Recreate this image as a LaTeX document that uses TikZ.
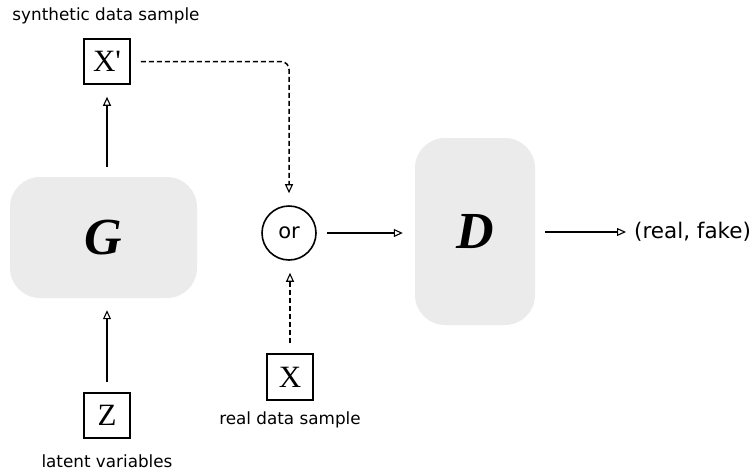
\documentclass[tikz,border=0pt]{standalone}
\usepackage{fontspec}
\setmainfont{DejaVu Sans}
\newfontfamily\serifface{Liberation Serif}
\usetikzlibrary{arrows.meta}
\definecolor{boxgray}{HTML}{EBEBEB}
\tikzset{
  netbox/.style={fill=boxgray, draw=none, rounded corners=30pt, inner sep=0pt},
  varbox/.style={draw, line width=1.6pt, minimum width=46pt, minimum height=45pt, inner sep=0pt,
     font=\serifface\fontsize{31}{31}\selectfont},
  lbl/.style={inner sep=0pt, font=\fontsize{16.8}{18}\selectfont},
  flow/.style={line width=1.9pt, -{Triangle[open, length=9pt, width=8pt, line width=1.1pt]},
     shorten <=10pt, shorten >=12pt},
  dflow/.style={flow, line width=1.5pt, dash pattern=on 5pt off 3pt}
}
\begin{document}
\begin{tikzpicture}[x=1pt, y=-1pt]
\useasboundingbox (0,0) rectangle (754,472);
% networks
\node[netbox, minimum width=187pt, minimum height=121pt] (G) at (103.5,237.5)
  {\serifface\bfseries\itshape\fontsize{52}{52}\selectfont G};
\node[netbox, minimum width=120pt, minimum height=187pt] (D) at (475,231.5)
  {\serifface\bfseries\itshape\fontsize{52}{52}\selectfont D};
% variables
\node[varbox] (xp) at (107,61.5) {X'};
\node[varbox] (z) at (107,415.5) {Z};
\node[varbox, minimum height=46pt] (x) at (290,377) {X};
\node[draw, circle, line width=1.6pt, minimum size=54pt, inner sep=0pt,
  font=\fontsize{21}{21}\selectfont] (or) at (289,233) {or};
% labels
\node[lbl] (lsyn) at (106,16) {synthetic data sample};
\node[lbl] (llat) at (107,461) {latent variables};
\node[lbl] (lreal) at (290,420) {real data sample};
\node[inner sep=0pt, anchor=west, font=\fontsize{21.5}{23}\selectfont] (out) at (634,232) {(real, fake)};
% connectors
\draw[flow] (z) -- (z |- G.south);
\draw[flow] (xp |- G.north) -- (xp);
\draw[dflow, rounded corners=8pt] (xp.east) -| (or.north);
\draw[dflow] (x) -- (x |- or.south);
\draw[flow] (or) -- (D.west |- or);
\draw[flow, shorten >=8pt] (D.east |- out.west) -- (out.west);
\end{tikzpicture}
\end{document}
